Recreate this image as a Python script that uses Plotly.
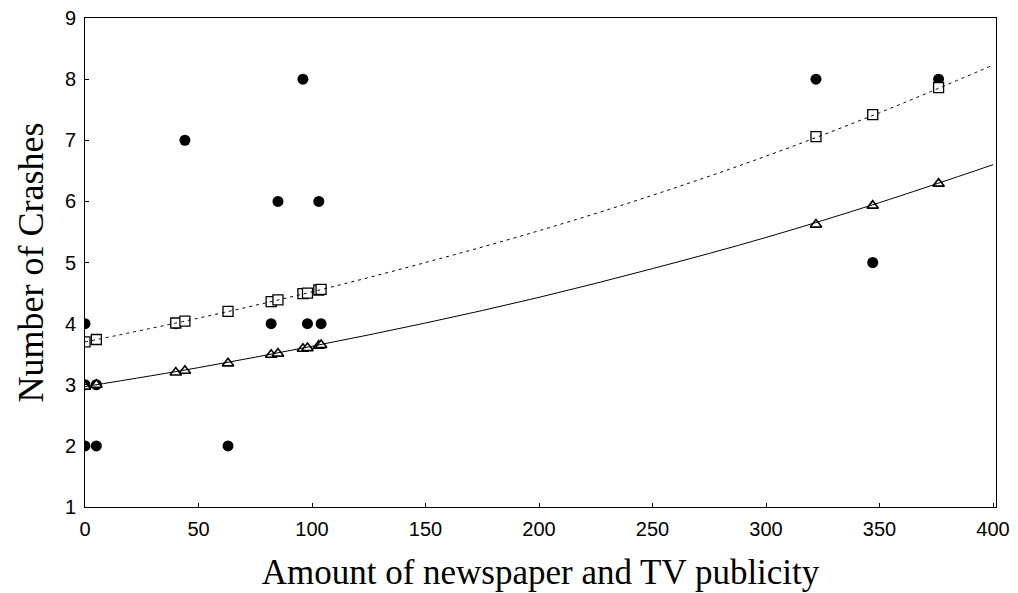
import plotly.graph_objects as go

# Observed data (publicity amount, number of crashes)
obs_x = [0, 0, 0, 5, 5, 40, 44, 63, 82, 85, 96, 98, 103, 104, 322, 347, 376]
obs_y = [4, 3, 2, 3, 2, 4, 7, 2, 4, 6, 8, 4, 6, 4, 8, 5, 8]

# Fitted values at the observed x positions
fit_x = [0, 5, 40, 44, 63, 82, 85, 96, 98, 103, 104, 322, 347, 376]
fit_sq = [3.70, 3.74, 4.01, 4.04, 4.20, 4.36, 4.39, 4.49, 4.50, 4.55, 4.56, 7.06, 7.42, 7.86]
fit_tri = [2.97, 3.00, 3.20, 3.23, 3.35, 3.49, 3.51, 3.59, 3.60, 3.64, 3.65, 5.62, 5.93, 6.29]

# Fitted curves
curve_x = [0, 50, 100, 150, 200, 250, 300, 350, 400]
curve_sq = [3.70, 4.09, 4.52, 5.00, 5.52, 6.10, 6.74, 7.45, 8.23]
curve_tri = [2.97, 3.28, 3.63, 4.01, 4.43, 4.90, 5.41, 5.98, 6.60]

x_ticks = [0, 50, 100, 150, 200, 250, 300, 350, 400]
y_ticks = [1, 2, 3, 4, 5, 6, 7, 8, 9]

fig = go.Figure()
fig.add_trace(go.Scatter(x=obs_x, y=obs_y, mode="markers",
                         marker=dict(symbol="circle", size=11, color="black", line=dict(width=0))))
fig.add_trace(go.Scatter(x=fit_x, y=fit_sq, mode="markers",
                         marker=dict(symbol="square", size=10, color="white",
                                     line=dict(color="black", width=1.3))))
fig.add_trace(go.Scatter(x=fit_x, y=fit_tri, mode="markers",
                         marker=dict(symbol="triangle-up", size=10, color="white",
                                     line=dict(color="black", width=1.6))))
fig.add_trace(go.Scatter(x=curve_x, y=curve_sq, mode="lines", line_shape="spline",
                         line=dict(color="black", width=1, dash="3px,4px")))
fig.add_trace(go.Scatter(x=curve_x, y=curve_tri, mode="lines", line_shape="spline",
                         line=dict(color="black", width=1)))

axis_common = dict(showline=True, linecolor="black", linewidth=1, mirror=True,
                   showgrid=False, zeroline=False, ticks="inside", ticklen=4,
                   tickcolor="black", ticklabeloverflow="allow", automargin=False,
                   tickfont=dict(family="Liberation Sans, Arial", size=20, color="black"))

fig.update_layout(
    width=1010, height=585,
    margin=dict(l=77, r=22, t=10, b=86),
    paper_bgcolor="white", plot_bgcolor="white",
    showlegend=False,
    xaxis=dict(range=[0, 401.3], tickvals=x_ticks, ticklabelstandoff=4,
               title=dict(text="Amount of newspaper and TV publicity",
                          font=dict(family="Liberation Serif, Times New Roman", size=35, color="black"),
                          standoff=20),
               **axis_common),
    yaxis=dict(range=[1, 9], tickvals=y_ticks, ticklabelstandoff=4,
               title=dict(text="Number of Crashes",
                          font=dict(family="Liberation Serif, Times New Roman", size=36, color="black"),
                          standoff=10),
               **axis_common),
)

fig.write_html("out.html")
